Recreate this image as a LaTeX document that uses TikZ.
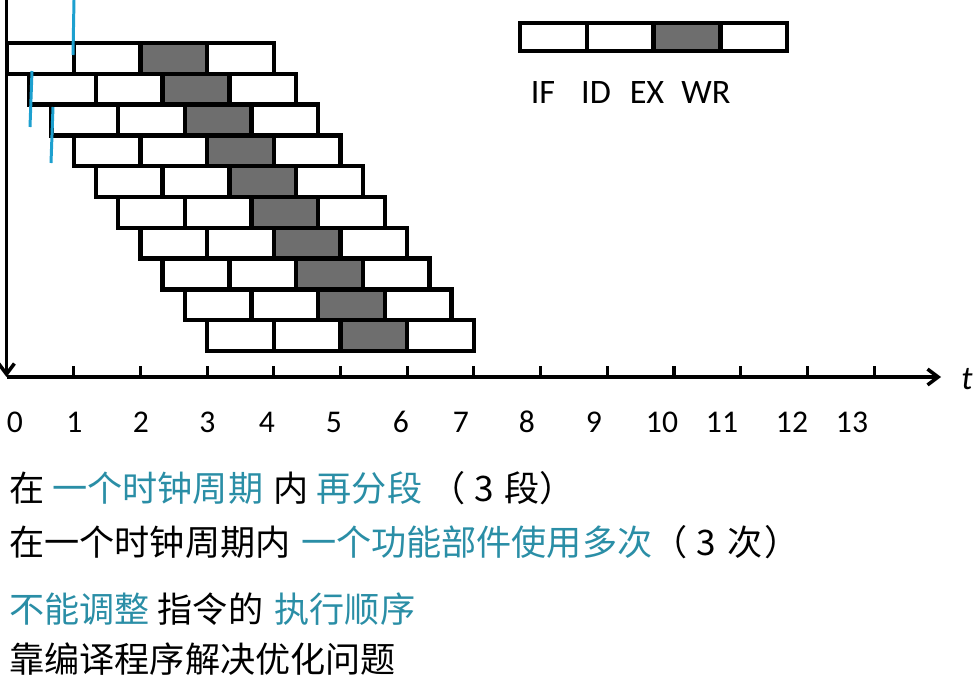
\documentclass[tikz,border=0pt]{standalone}
\usepackage{fontspec}
\setmainfont{Carlito}
\newfontfamily\zhfont{Noto Sans CJK SC}
\usepackage{xcolor}
\usepackage{tikz}
\usetikzlibrary{arrows.meta}
\definecolor{exgray}{HTML}{6E6E6E}
\definecolor{hlteal}{HTML}{2A8EA6}
\definecolor{markcyan}{HTML}{1DA0CF}

\begin{document}
\begin{tikzpicture}[
  x=0.02cm, y=-0.02cm,
  cell/.style={draw=black, fill=white, line width=2.5pt},
  excell/.style={cell, fill=exgray},
  axis/.style={line width=2pt, -{Straight Barb[length=6pt,width=9pt]}},
  axtick/.style={line width=1.8pt},
  ticklbl/.style={inner sep=0pt, font=\fontsize{18}{20}\selectfont},
  stagelbl/.style={inner sep=0pt, font=\fontsize{19.5}{22}\selectfont},
  cyanmark/.style={draw=markcyan, line width=1.7pt},
  txtline/.style={anchor=west, inner sep=0pt, font=\zhfont\fontsize{20}{24}\selectfont},
]
\useasboundingbox (0,0) rectangle (976,676);

% ---------- pipeline rows: 10 instructions, shifted by 1/3 cycle ----------
% x = 7 + 66.7*t (px), rows 30.8 px high
\foreach \i in {0,...,9} {
  \pgfmathsetmacro{\yt}{43+30.8*\i}
  \pgfmathsetmacro{\yb}{\yt+30.8}
  \foreach \k/\sty in {0/cell,1/cell,2/excell,3/cell} {
    \pgfmathsetmacro{\xa}{7+66.7*(\i/3+\k)}
    \pgfmathsetmacro{\xb}{\xa+66.7}
    \draw[\sty] (\xa,\yt) rectangle (\xb,\yb);
  }
}

% hand marks
\draw[cyanmark] (74,0) -- (73,55);
\draw[cyanmark] (32,71) -- (30,127);
\draw[cyanmark] (53,107) -- (51,163);

% ---------- legend ----------
\foreach \k/\sty in {0/cell,1/cell,2/excell,3/cell} {
  \pgfmathsetmacro{\xa}{520+66.8*\k}
  \draw[\sty] (\xa,23) rectangle ({\xa+66.8},51);
}
\foreach \nm/\xl in {IF/543,ID/596,EX/647,WR/706} {
  \node[stagelbl] (leg\nm) at (\xl,92.5) {\nm};
}

% ---------- axes ----------
\coordinate (ytop) at (6.5,0);
\coordinate (origin) at (6.5,377);
\coordinate (xend) at (941,377);
\draw[axis] (ytop) -- (origin);
\draw[axis] (origin) -- (xend);
\foreach \v in {1,...,13} {
  \pgfmathsetmacro{\x}{7+66.7*\v}
  \draw[axtick] (\x,377) -- (\x,366);
}
\foreach \v/\xl in {0/15,1/74.5,2/141,3/207.5,4/267,5/334,6/401,7/461,8/527,9/594,10/662,11/722,12/792,13/852} {
  \node[ticklbl] (num\v) at (\xl,422) {\v};
}
\node[font=\fontsize{19}{22}\selectfont\itshape, inner sep=0pt] (tlbl) at (967,379) {t};

% ---------- notes ----------
\node[txtline] (line1) at (9,488) {在 {\color{hlteal}一个时钟周期}\hspace{6pt}内 {\color{hlteal}再分段} （\hspace{5.5pt}3\hspace{5.5pt}段）};
\node[txtline] (line2) at (9,542) {在一个时钟周期内\hspace{6pt}{\color{hlteal}一个功能部件使用多次}（\hspace{5pt}3\hspace{6.5pt}次\hspace{1.5pt}）};
\node[txtline] (line3) at (9,609) {{\color{hlteal}不能调整} 指令的\hspace{6.5pt}{\color{hlteal}执行顺序}};
\node[txtline] (line4) at (9,659) {靠编译程序解决优化问题};
\end{tikzpicture}
\end{document}
